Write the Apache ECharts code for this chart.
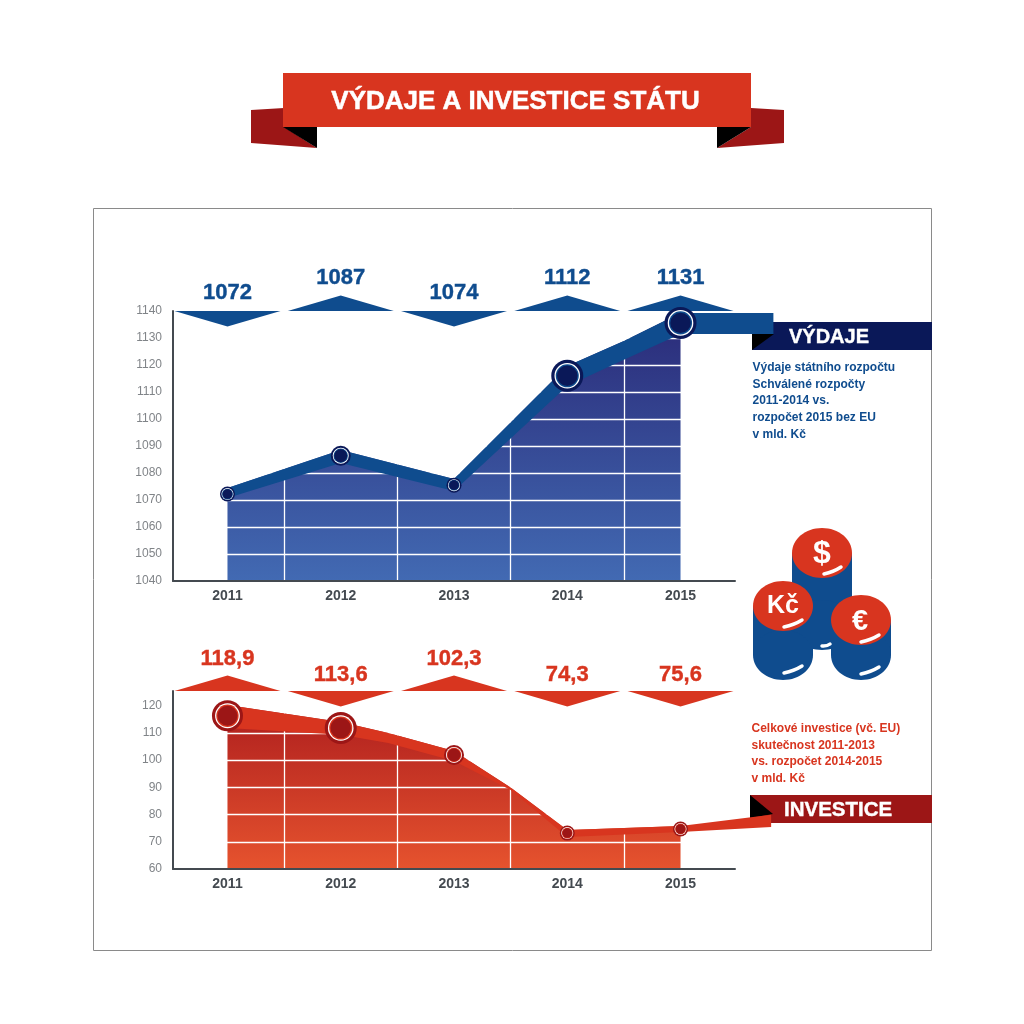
<!DOCTYPE html>
<html>
<head>
<meta charset="utf-8">
<title>Výdaje a investice státu</title>
<style>
html, body { margin: 0; padding: 0; background: #fff; }
#chart { width: 1024px; height: 1024px; }
</style>
<script src="https://cdn.jsdelivr.net/npm/echarts@6/dist/echarts.min.js"></script>
</head>
<body>
<div id="chart"></div>
<script>
// data
var years = [2011, 2012, 2013, 2014, 2015];

// printed values
var vydajeLabels = [1072, 1087, 1074, 1112, 1131];
var investiceLabels = [118.9, 113.6, 102.3, 74.3, 75.6];

// where the points really sit on the axes (differs from the printed values)
var vydajePlotted = [1072.2, 1086.4, 1075.5, 1116, 1135.6];
var investicePlotted = [116.3, 111.8, 101.9, 73.2, 74.7];

// thick ribbon running over each chart: top and bottom edge
var vydajeRibbonX = [2011, 2012, 2013, 2014, 2014.5, 2015, 2015.82];
var vydajeRibbonTop = [1074.4, 1088.5, 1077.8, 1119.6, 1128.9, 1139.3, 1139.3];
var vydajeRibbonBottom = [1070.7, 1083.7, 1073.3, 1112.2, 1121.9, 1131.5, 1131.5];

var investiceRibbonX = [2011, 2012, 2012.42, 2013, 2013.5, 2014, 2015, 2015.8];
var investiceRibbonTop = [120.3, 114, 110, 103.4, 89.9, 74.3, 75.8, 79.9];
var investiceRibbonBottom = [111.8, 109.3, 106.3, 99.7, 89, 71.8, 73.6, 75.4];

var vydajeTicks = [1040, 1050, 1060, 1070, 1080, 1090, 1100, 1110, 1120, 1130, 1140];
var investiceTicks = [60, 70, 80, 90, 100, 110, 120];
var columnEdges = [2011.5, 2012.5, 2013.5, 2014.5];

var vydajeText = ['Výdaje státního rozpočtu', 'Schválené rozpočty', '2011-2014 vs.', 'rozpočet 2015 bez EU', 'v mld. Kč'];
var investiceText = ['Celkové investice (vč. EU)', 'skutečnost 2011-2013', 'vs. rozpočet 2014-2015', 'v mld. Kč'];

// look
var FONT = '"Liberation Sans", Arial, sans-serif';
var RED = '#d8351f';
var DARK_RED = '#9c1616';
var BLUE = '#0f4c8e';
var NAVY = '#0a1858';
var AXIS = '#444a50';

var vydajeFlags = [-1, 1, -1, 1, 1];
var investiceFlags = [1, -1, 1, -1, -1];
var vydajeRadius = [7.5, 10, 7.5, 16, 16];
var investiceRadius = [15.5, 16, 10, 7.5, 7.5];

function pairs(xs, ys) {
    return xs.map(function (x, i) {
        return [x, ys[i]];
    });
}

function gridAxes(index, tickValues) {
    return {
        x: {
            type: 'value',
            gridIndex: index,
            min: 2010.519,
            max: 2015.481,
            z: 5,
            axisLine: {onZero: false, lineStyle: {color: AXIS, width: 2}},
            axisTick: {show: false},
            splitLine: {show: false},
            axisLabel: {
                customValues: years,
                margin: 8,
                color: AXIS,
                fontFamily: FONT,
                fontWeight: 'bold',
                fontSize: 14,
                formatter: function (v) {
                    return String(v);
                }
            }
        },
        y: {
            type: 'value',
            gridIndex: index,
            z: 5,
            axisLine: {show: true, onZero: false, lineStyle: {color: AXIS, width: 2}},
            axisTick: {show: false},
            splitLine: {show: false},
            axisLabel: {
                customValues: tickValues,
                margin: 11,
                color: '#808488',
                fontFamily: FONT,
                fontSize: 12,
                formatter: function (v) {
                    return String(v);
                }
            }
        }
    };
}

// the filled part sits under the ribbon, so it follows the ribbon's top edge up to 2015
function areaSeries(index, xs, tops, ticks, colorTop, colorBottom) {
    var lines = ticks.map(function (t) {
        return {yAxis: t};
    }).concat(columnEdges.map(function (x) {
        return {xAxis: x};
    }));
    return {
        type: 'line',
        xAxisIndex: index,
        yAxisIndex: index,
        z: 2,
        silent: true,
        showSymbol: false,
        lineStyle: {width: 0},
        data: pairs(xs, tops).slice(0, -1),
        areaStyle: {
            origin: 'start',
            opacity: 1,
            color: new echarts.graphic.LinearGradient(0, 0, 0, 1, [
                {offset: 0, color: colorTop},
                {offset: 1, color: colorBottom}
            ])
        },
        markLine: {
            silent: true,
            z: 3,
            symbol: 'none',
            label: {show: false},
            lineStyle: {color: '#fff', type: 'solid', width: 1.3},
            data: lines
        }
    };
}

function ribbonSeries(index, xs, top, bottom, color) {
    return {
        type: 'custom',
        xAxisIndex: index,
        yAxisIndex: index,
        z: 10,
        silent: true,
        data: xs.map(function (x, i) {
            return [x, top[i], bottom[i]];
        }),
        renderItem: function (params, api) {
            if (params.dataIndex > 0) {
                return null;
            }
            var upper = pairs(xs, top).map(function (p) {
                return api.coord(p);
            });
            var lower = pairs(xs, bottom).map(function (p) {
                return api.coord(p);
            });
            return {
                type: 'polygon',
                shape: {points: upper.concat(lower.reverse())},
                style: {fill: color}
            };
        }
    };
}

function markerSeries(index, values, radius, dark, mid) {
    return {
        type: 'custom',
        xAxisIndex: index,
        yAxisIndex: index,
        z: 11,
        silent: true,
        data: pairs(years, values),
        renderItem: function (params, api) {
            var p = api.coord([api.value(0), api.value(1)]);
            var r = radius[params.dataIndex];
            var circle = function (size, fill) {
                return {
                    type: 'circle',
                    shape: {cx: p[0], cy: p[1], r: size},
                    style: {fill: fill}
                };
            };
            return {
                type: 'group',
                children: [
                    circle(r, dark),
                    circle(r * 0.8, '#fff'),
                    circle(r * 0.72, mid),
                    circle(r * 0.64, dark)
                ]
            };
        }
    };
}

// the little triangle over each year with its printed value
function flagSeries(index, values, flags, color, labelUp, labelDown, decimals) {
    return {
        type: 'custom',
        xAxisIndex: index,
        yAxisIndex: index,
        z: 9,
        silent: true,
        data: pairs(years, values),
        renderItem: function (params, api) {
            var i = params.dataIndex;
            var x = api.coord([api.value(0), 0])[0];
            var base = params.coordSys.y;
            var dir = flags[i];
            var text = decimals ? values[i].toFixed(1).replace('.', ',') : String(values[i]);
            return {
                type: 'group',
                children: [{
                    type: 'polygon',
                    shape: {points: [[x - 53, base], [x + 53, base], [x, base - dir * 15.5]]},
                    style: {fill: color}
                }, {
                    type: 'text',
                    style: {
                        text: text,
                        x: x,
                        y: base - (dir > 0 ? labelUp : labelDown),
                        align: 'center',
                        verticalAlign: 'middle',
                        fill: color,
                        stroke: color,
                        lineWidth: 0.4,
                        font: 'bold 22px ' + FONT
                    }
                }]
            };
        }
    };
}

function poly(points, fill) {
    return {type: 'polygon', z: 1, silent: true, shape: {points: points}, style: {fill: fill}};
}

function box(x, y, w, h, fill) {
    return {type: 'rect', z: 1, silent: true, shape: {x: x, y: y, width: w, height: h}, style: {fill: fill}};
}

function label(text, x, y, font, fill, align, heavy) {
    return {
        type: 'text',
        z: 2,
        silent: true,
        style: {
            text: text,
            x: x,
            y: y,
            align: align || 'left',
            verticalAlign: 'middle',
            font: font,
            fill: fill,
            stroke: heavy ? fill : null,
            lineWidth: heavy || 0
        }
    };
}

function paragraph(lines, x, y, step, fill) {
    return lines.map(function (line, i) {
        return label(line, x, y + i * step, 'bold 12px ' + FONT, fill);
    });
}

function coin(cx, topY, bottomY) {
    return [
        box(cx - 30, topY, 60, bottomY - topY, BLUE),
        {type: 'ellipse', z: 1, silent: true, shape: {cx: cx, cy: bottomY, rx: 30, ry: 25}, style: {fill: BLUE}},
        {type: 'ellipse', z: 1, silent: true, shape: {cx: cx, cy: topY, rx: 30, ry: 25}, style: {fill: RED}}
    ];
}

function glint(x1, y1, x2, y2) {
    return {
        type: 'bezierCurve',
        z: 2,
        silent: true,
        shape: {x1: x1, y1: y1, x2: x2, y2: y2, cpx1: (x1 + x2) / 2 + 1, cpy1: (y1 + y2) / 2 + 1.5},
        style: {stroke: '#fff', lineWidth: 3.5, lineCap: 'round', fill: 'none'}
    };
}

var decorations = [
    {type: 'rect', z: 0, silent: true, shape: {x: 93.5, y: 208.5, width: 838, height: 742}, style: {fill: 'none', stroke: '#8a8a8a', lineWidth: 1}},

    // title banner
    poly([[251, 110], [284, 108], [284, 127], [317, 148], [251, 143]], DARK_RED),
    poly([[784, 110], [751, 108], [751, 127], [717, 148], [784, 143]], DARK_RED),
    poly([[283, 127], [317, 127], [317, 148]], '#000'),
    poly([[751, 127], [717, 127], [717, 148]], '#000'),
    box(283, 73, 468, 54, RED),
    label('VÝDAJE A INVESTICE STÁTU', 515.5, 101.5, 'bold 26px ' + FONT, '#fff', 'center', 0.5),

    // side tags
    box(752, 322, 180, 28, NAVY),
    poly([[752, 334], [774, 334], [752, 350]], '#000'),
    label('VÝDAJE', 789, 337, 'bold 20px ' + FONT, '#fff', 'left', 0.4),

    box(750, 795, 182, 28, DARK_RED),
    poly([[750, 795], [773, 814], [750, 818]], '#000'),
    label('INVESTICE', 784, 810, 'bold 20.5px ' + FONT, '#fff', 'left', 0.4)
].concat(
    paragraph(vydajeText, 752.5, 367.5, 16.7, BLUE),
    paragraph(investiceText, 751.5, 728.5, 16.7, RED),
    // coins
    coin(822, 553, 625),
    coin(783, 606, 655),
    coin(861, 620, 655),
    [
        label('$', 822, 554, 'bold 32px ' + FONT, '#fff', 'center'),
        label('Kč', 783, 606, 'bold 25px ' + FONT, '#fff', 'center'),
        label('€', 860, 622, 'bold 29px ' + FONT, '#fff', 'center'),
        glint(824, 574, 841, 567),
        glint(784, 627, 802, 620),
        glint(861, 642, 879, 635),
        glint(784, 673, 802, 666),
        glint(861, 674, 879, 667),
        glint(822, 646, 830, 644)
    ]
);

var top1 = gridAxes(0, vydajeTicks);
var top2 = gridAxes(1, investiceTicks);
top1.y.min = 1040;
top1.y.max = 1140;
top2.y.min = 60;
top2.y.max = 125.4;

var chart = echarts.init(document.getElementById('chart'));
chart.setOption({
    animation: false,
    backgroundColor: '#fff',
    textStyle: {fontFamily: FONT},
    grid: [
        {left: 173, top: 311, width: 562, height: 270},
        {left: 173, top: 691, width: 562, height: 178}
    ],
    xAxis: [top1.x, top2.x],
    yAxis: [top1.y, top2.y],
    graphic: decorations,
    series: [
        areaSeries(0, vydajeRibbonX, vydajeRibbonTop, vydajeTicks, '#2a2a78', '#426ab3'),
        areaSeries(1, investiceRibbonX, investiceRibbonTop, investiceTicks, '#ae1e1e', '#e6532e'),
        flagSeries(0, vydajeLabels, vydajeFlags, BLUE, 33, 18.5, false),
        flagSeries(1, investiceLabels, investiceFlags, RED, 32, 16.5, true),
        ribbonSeries(0, vydajeRibbonX, vydajeRibbonTop, vydajeRibbonBottom, BLUE),
        ribbonSeries(1, investiceRibbonX, investiceRibbonTop, investiceRibbonBottom, RED),
        markerSeries(0, vydajePlotted, vydajeRadius, NAVY, BLUE),
        markerSeries(1, investicePlotted, investiceRadius, DARK_RED, RED)
    ]
});
</script>
</body>
</html>
